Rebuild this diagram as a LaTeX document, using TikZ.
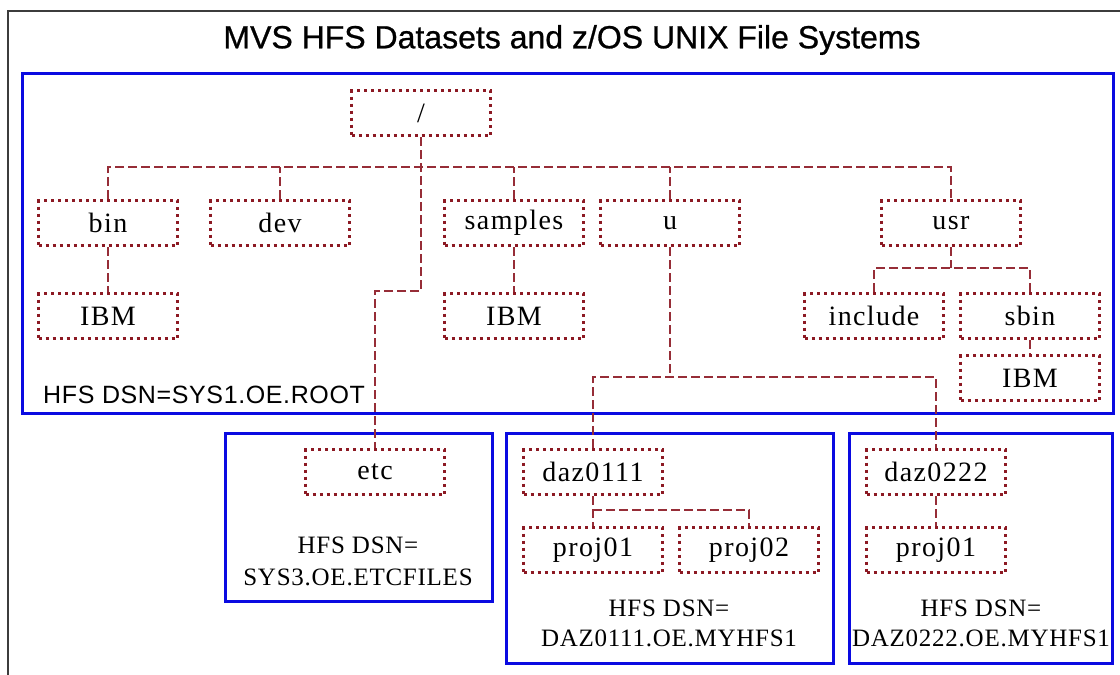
\documentclass[tikz,border=0pt]{standalone}
\usepackage{fontspec}
\setmainfont{Liberation Serif}
\newfontfamily\sansf{Liberation Sans}
\newfontfamily\titlef[FakeBold=0.8]{Liberation Sans}
\newfontfamily\rootf[LetterSpace=2.5]{Liberation Sans}
\newfontfamily\nodef[LetterSpace=5]{Liberation Serif}
\newfontfamily\labf[LetterSpace=3]{Liberation Serif}
\definecolor{dotcol}{RGB}{140,25,35}
\definecolor{dashcol}{RGB}{150,45,55}
\definecolor{boxblue}{RGB}{10,10,225}
\definecolor{framecol}{RGB}{60,60,60}
\tikzset{
  fbox/.style={draw=dotcol, line width=3pt, dash pattern=on 3pt off 4pt,
    minimum width=139pt, minimum height=45pt, inner sep=0pt,
    font=\nodef\fontsize{28}{32}\selectfont},
  conn/.style={draw=dashcol, line width=1.5pt, dash pattern=on 9pt off 4pt},
  bluebox/.style={draw=boxblue, line width=3pt},
  dsnlab/.style={font=\labf\fontsize{25}{29}\selectfont, inner sep=0pt}
}
\begin{document}
\begin{tikzpicture}[x=1pt,y=-1pt]
\useasboundingbox (0,0) rectangle (1120,675);
% outer frame
\draw[framecol, line width=1.5pt] (8,675) -- (8,11) -- (1120,11);
% title
\node[font=\titlef\fontsize{32}{36}\selectfont, inner sep=0pt] (title) at (572,40) {MVS HFS Datasets and z/OS UNIX File Systems};
% blue file system boxes
\draw[bluebox] (22,73) rectangle (1113,413);
\draw[bluebox] (225,433) rectangle (492,601);
\draw[bluebox] (506,433) rectangle (833,663);
\draw[bluebox] (849,433) rectangle (1112,663);
% directory nodes
\node[fbox] (root) at (421,113) {/};
\node[fbox] (bin) at (108,223) {bin};
\node[fbox] (dev) at (280,223) {dev};
\node[fbox] (samples) at (514,223) {samples};
\node[fbox] (u) at (670,223) {u};
\node[fbox] (usr) at (951,223) {usr};
\node[fbox] (ibma) at (108,316) {IBM};
\node[fbox] (ibmb) at (514,316) {IBM};
\node[fbox] (include) at (874,316) {include};
\node[fbox] (sbin) at (1030,316) {sbin};
\node[fbox] (ibmc) at (1030,378) {IBM};
\node[fbox] (etc) at (375,472) {etc};
\node[fbox] (daza) at (593,472) {daz0111};
\node[fbox] (proja) at (593,550) {proj01};
\node[fbox] (projb) at (749,550) {proj02};
\node[fbox] (dazb) at (936,472) {daz0222};
\node[fbox] (projc) at (936,550) {proj01};
% labels
\node[font=\rootf\fontsize{25}{29}\selectfont, inner sep=0pt, anchor=west] (rootdsn) at (43,395) {HFS DSN=SYS1.OE.ROOT};
\node[dsnlab] (etcdsna) at (358,545) {HFS DSN=};
\node[dsnlab] (etcdsnb) at (358,577) {SYS3.OE.ETCFILES};
\node[dsnlab] (dazadsna) at (669,608) {HFS DSN=};
\node[dsnlab] (dazadsnb) at (669,638) {DAZ0111.OE.MYHFS1};
\node[dsnlab] (dazbdsna) at (981,608) {HFS DSN=};
\node[dsnlab] (dazbdsnb) at (981,638) {DAZ0222.OE.MYHFS1};
% connectors
\coordinate (busy) at (0,167);
\coordinate (etcbend) at (375,291);
\coordinate (usrbus) at (0,268);
\coordinate (ubus) at (0,377);
\coordinate (dbus) at (0,510);
\draw[conn] (root.south) |- (etcbend) -- (etc.north);
\draw[conn] (bin.north) |- (usr.north |- busy) -- (usr.north);
\draw[conn] (dev.north) -- (dev.north |- busy);
\draw[conn] (samples.north) -- (samples.north |- busy);
\draw[conn] (u.north) -- (u.north |- busy);
\draw[conn] (bin.south) -- (ibma.north);
\draw[conn] (samples.south) -- (ibmb.north);
\draw[conn] (usr.south) -- (usr.south |- usrbus);
\draw[conn] (include.north) |- (sbin.north |- usrbus) -- (sbin.north);
\draw[conn] (sbin.south) -- (ibmc.north);
\draw[conn] (u.south) -- (u.south |- ubus);
\draw[conn] (daza.north) |- (dazb.north |- ubus) -- (dazb.north);
\draw[conn] (daza.south) -- (proja.north);
\draw[conn] (daza.south |- dbus) -| (projb.north);
\draw[conn] (dazb.south) -- (projc.north);
\end{tikzpicture}
\end{document}
